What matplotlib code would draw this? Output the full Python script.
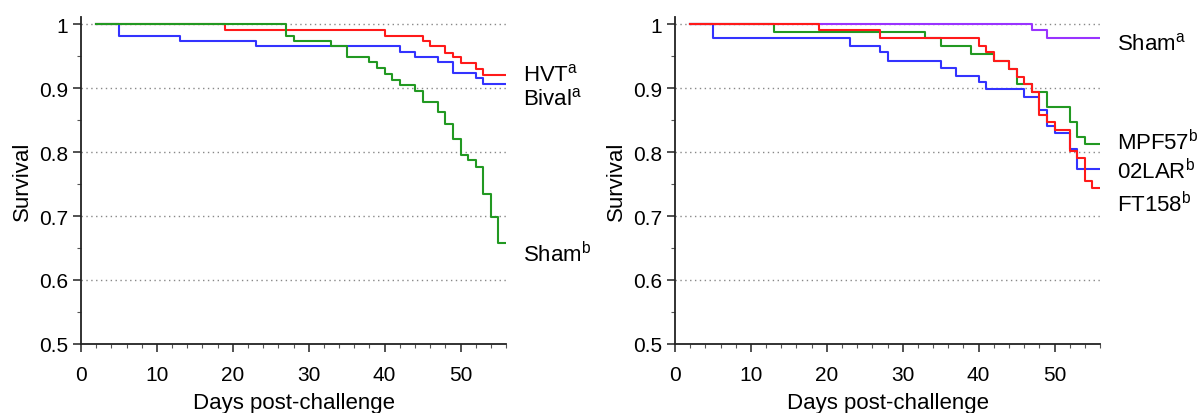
import matplotlib
matplotlib.use("Agg")
import matplotlib.pyplot as plt
from matplotlib.ticker import MultipleLocator

plt.rcParams['font.family'] = ['Liberation Sans', 'DejaVu Sans']
plt.rcParams['mathtext.fontset'] = 'custom'
plt.rcParams['mathtext.rm'] = 'Liberation Sans'

# ---- Left panel data (day of event, survival after event) ----
hvt_days = [2, 19, 40, 45, 46, 48, 49, 50, 52, 53, 56]
hvt_surv = [1.0, 0.991, 0.982, 0.973, 0.965, 0.955, 0.948, 0.939, 0.930, 0.921, 0.921]

bival_days = [2, 5, 13, 23, 42, 44, 47, 49, 52, 53, 56]
bival_surv = [1.0, 0.982, 0.974, 0.966, 0.957, 0.948, 0.940, 0.923, 0.915, 0.906, 0.906]

sham_l_days = [2, 27, 28, 33, 35, 38, 39, 40, 41, 42, 44, 45, 47, 48, 49, 50, 51, 52, 53, 54, 55, 56]
sham_l_surv = [1.0, 0.982, 0.974, 0.965, 0.948, 0.940, 0.931, 0.922, 0.912, 0.904, 0.896, 0.878,
               0.862, 0.844, 0.821, 0.795, 0.787, 0.777, 0.735, 0.699, 0.658, 0.658]

# ---- Right panel data ----
sham_r_days = [2, 47, 49, 56]
sham_r_surv = [1.0, 0.990, 0.978, 0.978]

mpf57_days = [2, 13, 33, 35, 39, 42, 44, 45, 47, 49, 52, 53, 54, 56]
mpf57_surv = [1.0, 0.988, 0.978, 0.965, 0.953, 0.943, 0.929, 0.907, 0.894, 0.870, 0.847, 0.823, 0.812, 0.812]

lar02_days = [2, 5, 23, 27, 28, 35, 37, 40, 41, 46, 48, 49, 50, 52, 53, 56]
lar02_surv = [1.0, 0.978, 0.966, 0.956, 0.943, 0.932, 0.919, 0.909, 0.898, 0.886, 0.866, 0.841,
              0.830, 0.805, 0.774, 0.774]

ft158_days = [2, 19, 27, 40, 41, 42, 44, 45, 46, 47, 48, 49, 50, 52, 53, 54, 55, 56]
ft158_surv = [1.0, 0.990, 0.978, 0.966, 0.956, 0.943, 0.929, 0.918, 0.907, 0.894, 0.858, 0.847,
              0.834, 0.801, 0.790, 0.754, 0.743, 0.743]

# ---- Curve labels (text, y position of baseline) ----
left_labels = [r'HVT$^{\mathrm{a}}$', r'Bival$^{\mathrm{a}}$', r'Sham$^{\mathrm{b}}$']
left_label_y = [0.912, 0.875, 0.629]
right_labels = [r'Sham$^{\mathrm{a}}$', r'MPF57$^{\mathrm{b}}$', r'02LAR$^{\mathrm{b}}$', r'FT158$^{\mathrm{b}}$']
right_label_y = [0.960, 0.805, 0.759, 0.707]

RED = '#ff1a1a'
BLUE = '#3333ff'
GREEN = '#229922'
PURPLE = '#9933ff'

fig = plt.figure(figsize=(12, 4.14), dpi=100)
axL = fig.add_axes([0.0675, 0.1667, 0.3542, 0.7898])
axR = fig.add_axes([0.5625, 0.1667, 0.3542, 0.7898])

def style(ax):
    ax.set_xlim(0, 56)
    ax.set_ylim(0.5, 1.011)
    for s in ['top', 'right']:
        ax.spines[s].set_visible(False)
    for s in ['left', 'bottom']:
        ax.spines[s].set_linewidth(1.3)
        ax.spines[s].set_color('#222222')
    ax.xaxis.set_major_locator(MultipleLocator(10))
    ax.xaxis.set_minor_locator(MultipleLocator(2))
    ax.set_yticks([0.5, 0.6, 0.7, 0.8, 0.9, 1.0])
    ax.set_yticklabels(['0.5', '0.6', '0.7', '0.8', '0.9', '1'])
    ax.yaxis.set_minor_locator(MultipleLocator(0.05))
    ax.tick_params(which='major', length=6, width=1.1, labelsize=15, color='#222222')
    ax.tick_params(axis='x', which='major', pad=9)
    ax.tick_params(which='minor', length=3, width=0.8, color='#555555')
    for yv in [0.6, 0.7, 0.8, 0.9, 1.0]:
        ax.axhline(yv, color='#888888', linestyle=(0, (1, 2.5)), linewidth=1.0, zorder=0)
    ax.set_xlabel('Days post-challenge', fontsize=16, labelpad=6)
    ax.set_ylabel('Survival', fontsize=16, labelpad=4)

style(axL)
style(axR)

axL.step(hvt_days, hvt_surv, where='post', color=RED, lw=1.5)
axL.step(bival_days, bival_surv, where='post', color=BLUE, lw=1.5)
axL.step(sham_l_days, sham_l_surv, where='post', color=GREEN, lw=1.5)

axR.step(sham_r_days, sham_r_surv, where='post', color=PURPLE, lw=1.5)
axR.step(mpf57_days, mpf57_surv, where='post', color=GREEN, lw=1.5)
axR.step(lar02_days, lar02_surv, where='post', color=BLUE, lw=1.5)
axR.step(ft158_days, ft158_surv, where='post', color=RED, lw=1.5)

kw = dict(fontsize=16, va='baseline', ha='left', clip_on=False)
for t, y in zip(left_labels, left_label_y):
    axL.text(58.3, y, t, **kw)
for t, y in zip(right_labels, right_label_y):
    axR.text(58.2, y, t, **kw)

fig.savefig('out.png', dpi=100)
